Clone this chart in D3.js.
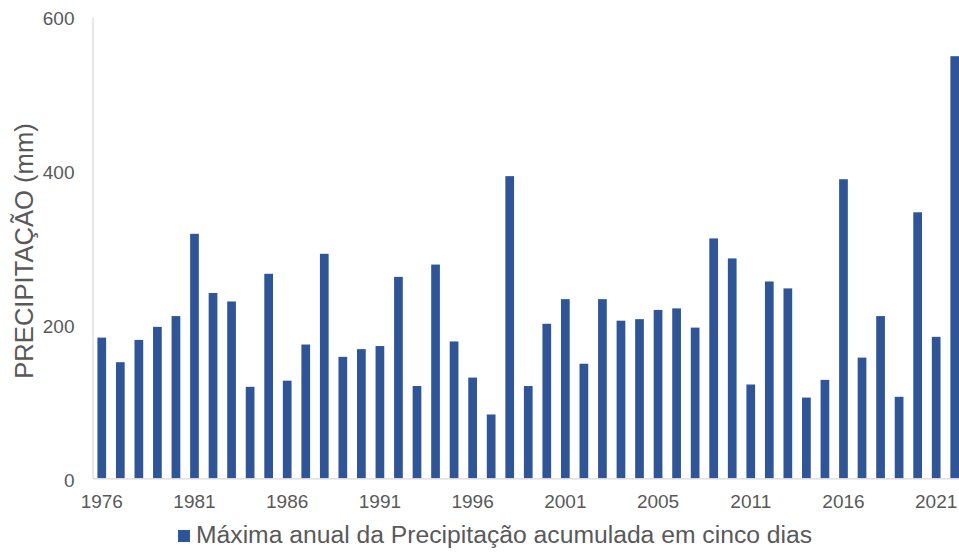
<!DOCTYPE html>
<html>
<head>
<meta charset="utf-8">
<script src="https://cdn.jsdelivr.net/npm/d3@7"></script>
<style>
  html, body { margin: 0; padding: 0; background: #ffffff; }
  svg { display: block; font-family: "Liberation Sans", Arial, sans-serif; }
</style>
</head>
<body>
<svg id="chart" width="959" height="553"></svg>
<script>
// Annual maximum of 5-day accumulated precipitation (mm), 1976–2022
const years = d3.range(1976, 2023);
const precipitation = [
  183, 151, 180, 197, 211, 318, 241, 230, 119, 266,
  127, 174, 292, 158, 168, 172, 262, 120, 278, 178,
  131, 83, 393, 120, 201, 233, 149, 233, 205, 207,
  219, 221, 196, 312, 286, 122, 256, 247, 105, 128,
  389, 157, 211, 106, 346, 184, 549
];
// Category labels shown every fifth bar
const tickIndices = [0, 5, 10, 15, 20, 25, 30, 35, 40, 45];
const tickLabels = ["1976", "1981", "1986", "1991", "1996", "2001", "2005", "2011", "2016", "2021"];
const yTicks = [0, 200, 400, 600];
const seriesName = "Máxima anual da Precipitação acumulada em cinco dias";
const yTitle = "PRECIPITAÇÃO (mm)";

const svg = d3.select("#chart");
const textColor = "#595959";
const barColor = "#2f5597";
const gridColor = "#d9d9d9";

const x = d3.scaleBand()
  .domain(years)
  .range([92.5, 964])
  .paddingInner(0.53)
  .paddingOuter(0.265);

const y = d3.scaleLinear()
  .domain([0, 600])
  .range([478.3, 17]);

// Bars
svg.append("g")
  .selectAll("rect")
  .data(years.map((yr, i) => ({ yr, v: precipitation[i] })))
  .join("rect")
  .attr("x", d => x(d.yr))
  .attr("width", x.bandwidth())
  .attr("y", d => y(d.v))
  .attr("height", d => y(0) - y(d.v))
  .attr("fill", barColor);

// Y axis
const yAxis = svg.append("g")
  .attr("transform", `translate(${x.range()[0]},0)`)
  .call(d3.axisLeft(y).tickValues(yTicks).tickSize(0).tickSizeOuter(0).tickPadding(18));
yAxis.select(".domain").attr("stroke", gridColor).attr("stroke-width", 1.2);
yAxis.selectAll("text")
  .attr("fill", textColor)
  .attr("font-size", 19)
  .attr("dy", "0.42em")
  .attr("font-family", "Liberation Sans, Arial, sans-serif");

// X axis
const tickYears = tickIndices.map(i => years[i]);
const xAxis = svg.append("g")
  .attr("transform", `translate(0,${y(0)})`)
  .call(d3.axisBottom(x)
    .tickValues(tickYears)
    .tickFormat(d => tickLabels[tickYears.indexOf(d)])
    .tickSize(0)
    .tickSizeOuter(0)
    .tickPadding(16));
xAxis.select(".domain").attr("stroke", gridColor).attr("stroke-width", 1.2);
xAxis.selectAll("text")
  .attr("fill", textColor)
  .attr("font-size", 19)
  .attr("font-family", "Liberation Sans, Arial, sans-serif");

// Y axis title
svg.append("text")
  .attr("transform", "translate(33,251) rotate(-90)")
  .attr("text-anchor", "middle")
  .attr("fill", textColor)
  .attr("font-size", 25.6)
  .text(yTitle);

// Legend
const legend = svg.append("g");
legend.append("rect")
  .attr("x", 178).attr("y", 530)
  .attr("width", 12).attr("height", 12)
  .attr("fill", barColor);
legend.append("text")
  .attr("x", 196).attr("y", 543)
  .attr("fill", textColor)
  .attr("font-size", 24.7)
  .text(seriesName);
</script>
</body>
</html>
